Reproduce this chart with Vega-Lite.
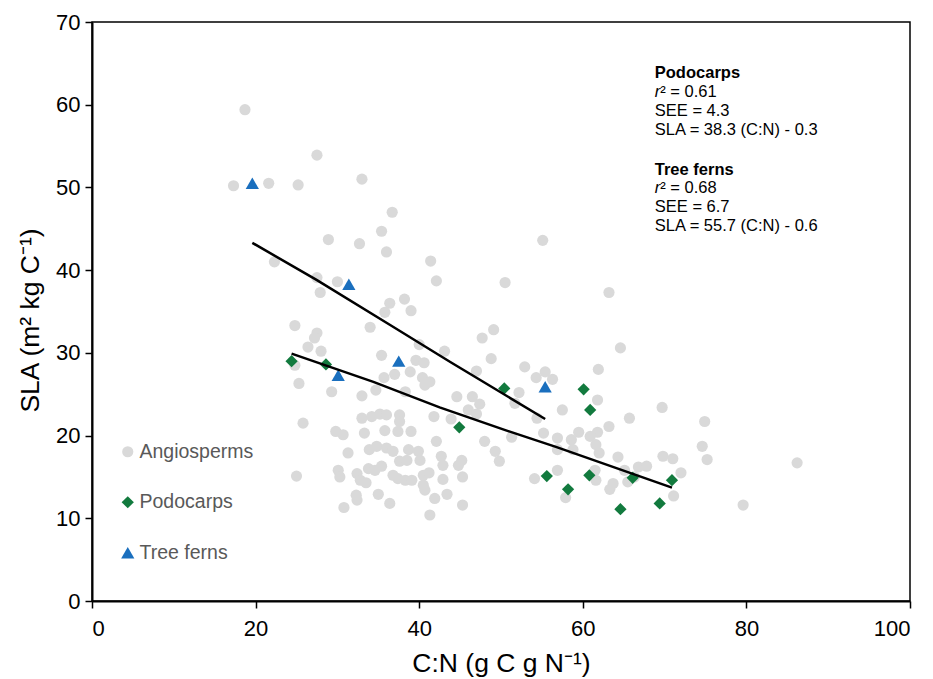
{
  "$schema": "https://vega.github.io/schema/vega-lite/v6.json",
  "width": 818,
  "height": 579,
  "autosize": {"type": "none"},
  "padding": {"left": 92, "top": 22, "right": 23, "bottom": 78},
  "background": "white",
  "config": {
    "font": "Liberation Sans",
    "view": {"stroke": "black", "strokeWidth": 1.5},
    "axis": {
      "grid": false,
      "domainColor": "black",
      "domainWidth": 2,
      "tickColor": "black",
      "tickWidth": 1.5,
      "tickSize": 7,
      "labelFont": "Liberation Sans",
      "labelFontSize": 22,
      "labelColor": "black",
      "titleFont": "Liberation Sans",
      "titleFontSize": 26.5,
      "titleFontWeight": "normal",
      "titleColor": "black"
    },
    "legend": {
      "labelFont": "Liberation Sans",
      "labelFontSize": 19.5,
      "labelColor": "#595959",
      "symbolSize": 90,
      "symbolStrokeWidth": 0,
      "rowPadding": 29.5,
      "padding": 0,
      "labelOffset": 2
    }
  },
  "datasets": {
    "points": [
      {"group": "Angiosperms", "cn": 18.7, "sla": 59.4},
      {"group": "Angiosperms", "cn": 27.5, "sla": 53.9},
      {"group": "Angiosperms", "cn": 17.3, "sla": 50.2},
      {"group": "Angiosperms", "cn": 21.6, "sla": 50.5},
      {"group": "Angiosperms", "cn": 25.2, "sla": 50.3},
      {"group": "Angiosperms", "cn": 33.0, "sla": 51.0},
      {"group": "Angiosperms", "cn": 36.7, "sla": 47.0},
      {"group": "Angiosperms", "cn": 35.4, "sla": 44.7},
      {"group": "Angiosperms", "cn": 28.9, "sla": 43.7},
      {"group": "Angiosperms", "cn": 32.7, "sla": 43.2},
      {"group": "Angiosperms", "cn": 36.0, "sla": 42.2},
      {"group": "Angiosperms", "cn": 41.4, "sla": 41.1},
      {"group": "Angiosperms", "cn": 22.3, "sla": 41.0},
      {"group": "Angiosperms", "cn": 55.1, "sla": 43.6},
      {"group": "Angiosperms", "cn": 27.5, "sla": 39.1},
      {"group": "Angiosperms", "cn": 30.0, "sla": 38.6},
      {"group": "Angiosperms", "cn": 42.1, "sla": 38.7},
      {"group": "Angiosperms", "cn": 27.9, "sla": 37.3},
      {"group": "Angiosperms", "cn": 50.5, "sla": 38.5},
      {"group": "Angiosperms", "cn": 63.2, "sla": 37.3},
      {"group": "Angiosperms", "cn": 36.4, "sla": 36.0},
      {"group": "Angiosperms", "cn": 38.2, "sla": 36.5},
      {"group": "Angiosperms", "cn": 35.8, "sla": 34.9},
      {"group": "Angiosperms", "cn": 39.0, "sla": 35.1},
      {"group": "Angiosperms", "cn": 24.8, "sla": 33.3},
      {"group": "Angiosperms", "cn": 34.0, "sla": 33.1},
      {"group": "Angiosperms", "cn": 49.1, "sla": 32.8},
      {"group": "Angiosperms", "cn": 27.5, "sla": 32.4},
      {"group": "Angiosperms", "cn": 27.2, "sla": 31.8},
      {"group": "Angiosperms", "cn": 47.7, "sla": 31.8},
      {"group": "Angiosperms", "cn": 26.4, "sla": 30.7},
      {"group": "Angiosperms", "cn": 28.0, "sla": 30.2},
      {"group": "Angiosperms", "cn": 40.0, "sla": 31.0},
      {"group": "Angiosperms", "cn": 43.1, "sla": 30.2},
      {"group": "Angiosperms", "cn": 64.6, "sla": 30.6},
      {"group": "Angiosperms", "cn": 48.8, "sla": 29.3},
      {"group": "Angiosperms", "cn": 35.4, "sla": 29.7},
      {"group": "Angiosperms", "cn": 39.6, "sla": 29.1},
      {"group": "Angiosperms", "cn": 40.6, "sla": 28.8},
      {"group": "Angiosperms", "cn": 24.8, "sla": 28.5},
      {"group": "Angiosperms", "cn": 47.0, "sla": 27.8},
      {"group": "Angiosperms", "cn": 38.9, "sla": 27.7},
      {"group": "Angiosperms", "cn": 37.0, "sla": 27.4},
      {"group": "Angiosperms", "cn": 35.7, "sla": 27.0},
      {"group": "Angiosperms", "cn": 40.4, "sla": 27.0},
      {"group": "Angiosperms", "cn": 41.3, "sla": 26.5},
      {"group": "Angiosperms", "cn": 40.7, "sla": 26.1},
      {"group": "Angiosperms", "cn": 25.3, "sla": 26.3},
      {"group": "Angiosperms", "cn": 52.9, "sla": 28.3},
      {"group": "Angiosperms", "cn": 55.4, "sla": 27.7},
      {"group": "Angiosperms", "cn": 54.3, "sla": 27.0},
      {"group": "Angiosperms", "cn": 56.3, "sla": 26.8},
      {"group": "Angiosperms", "cn": 61.9, "sla": 28.0},
      {"group": "Angiosperms", "cn": 34.7, "sla": 25.5},
      {"group": "Angiosperms", "cn": 29.3, "sla": 25.3},
      {"group": "Angiosperms", "cn": 38.3, "sla": 25.3},
      {"group": "Angiosperms", "cn": 33.0, "sla": 24.8},
      {"group": "Angiosperms", "cn": 44.6, "sla": 24.7},
      {"group": "Angiosperms", "cn": 46.5, "sla": 24.7},
      {"group": "Angiosperms", "cn": 52.2, "sla": 25.2},
      {"group": "Angiosperms", "cn": 47.4, "sla": 23.8},
      {"group": "Angiosperms", "cn": 51.7, "sla": 23.9},
      {"group": "Angiosperms", "cn": 61.8, "sla": 24.3},
      {"group": "Angiosperms", "cn": 46.0, "sla": 23.1},
      {"group": "Angiosperms", "cn": 47.0, "sla": 22.6},
      {"group": "Angiosperms", "cn": 69.7, "sla": 23.4},
      {"group": "Angiosperms", "cn": 57.5, "sla": 23.1},
      {"group": "Angiosperms", "cn": 43.9, "sla": 22.0},
      {"group": "Angiosperms", "cn": 41.8, "sla": 22.3},
      {"group": "Angiosperms", "cn": 65.7, "sla": 22.1},
      {"group": "Angiosperms", "cn": 74.9, "sla": 21.7},
      {"group": "Angiosperms", "cn": 54.4, "sla": 22.1},
      {"group": "Angiosperms", "cn": 25.8, "sla": 21.5},
      {"group": "Angiosperms", "cn": 33.0, "sla": 22.1},
      {"group": "Angiosperms", "cn": 34.2, "sla": 22.3},
      {"group": "Angiosperms", "cn": 35.2, "sla": 22.6},
      {"group": "Angiosperms", "cn": 36.0, "sla": 22.5},
      {"group": "Angiosperms", "cn": 37.6, "sla": 22.5},
      {"group": "Angiosperms", "cn": 37.6, "sla": 21.7},
      {"group": "Angiosperms", "cn": 37.4, "sla": 20.5},
      {"group": "Angiosperms", "cn": 29.8, "sla": 20.5},
      {"group": "Angiosperms", "cn": 30.7, "sla": 20.1},
      {"group": "Angiosperms", "cn": 33.3, "sla": 20.3},
      {"group": "Angiosperms", "cn": 35.8, "sla": 20.6},
      {"group": "Angiosperms", "cn": 39.0, "sla": 20.5},
      {"group": "Angiosperms", "cn": 55.2, "sla": 20.3},
      {"group": "Angiosperms", "cn": 63.2, "sla": 21.1},
      {"group": "Angiosperms", "cn": 61.8, "sla": 20.4},
      {"group": "Angiosperms", "cn": 60.9, "sla": 19.9},
      {"group": "Angiosperms", "cn": 59.5, "sla": 20.4},
      {"group": "Angiosperms", "cn": 58.6, "sla": 19.5},
      {"group": "Angiosperms", "cn": 56.9, "sla": 19.7},
      {"group": "Angiosperms", "cn": 51.3, "sla": 19.8},
      {"group": "Angiosperms", "cn": 42.1, "sla": 19.3},
      {"group": "Angiosperms", "cn": 48.0, "sla": 19.3},
      {"group": "Angiosperms", "cn": 49.3, "sla": 18.1},
      {"group": "Angiosperms", "cn": 49.8, "sla": 16.9},
      {"group": "Angiosperms", "cn": 31.3, "sla": 17.9},
      {"group": "Angiosperms", "cn": 33.9, "sla": 18.3},
      {"group": "Angiosperms", "cn": 34.8, "sla": 18.7},
      {"group": "Angiosperms", "cn": 36.0, "sla": 18.5},
      {"group": "Angiosperms", "cn": 36.8, "sla": 18.1},
      {"group": "Angiosperms", "cn": 38.7, "sla": 18.3},
      {"group": "Angiosperms", "cn": 39.9, "sla": 18.1},
      {"group": "Angiosperms", "cn": 37.6, "sla": 16.9},
      {"group": "Angiosperms", "cn": 38.5, "sla": 17.0},
      {"group": "Angiosperms", "cn": 40.1, "sla": 17.0},
      {"group": "Angiosperms", "cn": 42.7, "sla": 17.5},
      {"group": "Angiosperms", "cn": 42.9, "sla": 16.4},
      {"group": "Angiosperms", "cn": 45.2, "sla": 17.0},
      {"group": "Angiosperms", "cn": 44.8, "sla": 16.4},
      {"group": "Angiosperms", "cn": 30.1, "sla": 15.8},
      {"group": "Angiosperms", "cn": 30.3, "sla": 15.0},
      {"group": "Angiosperms", "cn": 33.8, "sla": 16.0},
      {"group": "Angiosperms", "cn": 34.6, "sla": 15.8},
      {"group": "Angiosperms", "cn": 35.4, "sla": 16.3},
      {"group": "Angiosperms", "cn": 36.8, "sla": 15.2},
      {"group": "Angiosperms", "cn": 37.4, "sla": 14.8},
      {"group": "Angiosperms", "cn": 38.3, "sla": 14.6},
      {"group": "Angiosperms", "cn": 39.1, "sla": 14.6},
      {"group": "Angiosperms", "cn": 32.4, "sla": 15.4},
      {"group": "Angiosperms", "cn": 32.8, "sla": 14.6},
      {"group": "Angiosperms", "cn": 33.5, "sla": 14.3},
      {"group": "Angiosperms", "cn": 25.0, "sla": 15.1},
      {"group": "Angiosperms", "cn": 40.5, "sla": 15.2},
      {"group": "Angiosperms", "cn": 41.2, "sla": 15.5},
      {"group": "Angiosperms", "cn": 40.5, "sla": 14.0},
      {"group": "Angiosperms", "cn": 40.7, "sla": 13.4},
      {"group": "Angiosperms", "cn": 42.9, "sla": 14.7},
      {"group": "Angiosperms", "cn": 45.3, "sla": 15.0},
      {"group": "Angiosperms", "cn": 32.3, "sla": 12.8},
      {"group": "Angiosperms", "cn": 32.4, "sla": 12.2},
      {"group": "Angiosperms", "cn": 35.0, "sla": 12.9},
      {"group": "Angiosperms", "cn": 36.4, "sla": 11.8},
      {"group": "Angiosperms", "cn": 30.8, "sla": 11.3},
      {"group": "Angiosperms", "cn": 41.9, "sla": 12.4},
      {"group": "Angiosperms", "cn": 43.4, "sla": 12.9},
      {"group": "Angiosperms", "cn": 45.3, "sla": 11.6},
      {"group": "Angiosperms", "cn": 41.3, "sla": 10.4},
      {"group": "Angiosperms", "cn": 61.6, "sla": 18.9},
      {"group": "Angiosperms", "cn": 62.0, "sla": 17.9},
      {"group": "Angiosperms", "cn": 58.8, "sla": 18.3},
      {"group": "Angiosperms", "cn": 56.9, "sla": 18.3},
      {"group": "Angiosperms", "cn": 74.6, "sla": 18.7},
      {"group": "Angiosperms", "cn": 75.2, "sla": 17.1},
      {"group": "Angiosperms", "cn": 69.8, "sla": 17.5},
      {"group": "Angiosperms", "cn": 71.0, "sla": 17.2},
      {"group": "Angiosperms", "cn": 64.3, "sla": 17.4},
      {"group": "Angiosperms", "cn": 66.8, "sla": 16.2},
      {"group": "Angiosperms", "cn": 67.8, "sla": 16.3},
      {"group": "Angiosperms", "cn": 72.0, "sla": 15.5},
      {"group": "Angiosperms", "cn": 65.1, "sla": 15.8},
      {"group": "Angiosperms", "cn": 61.5, "sla": 15.8},
      {"group": "Angiosperms", "cn": 56.9, "sla": 15.8},
      {"group": "Angiosperms", "cn": 54.1, "sla": 14.8},
      {"group": "Angiosperms", "cn": 61.6, "sla": 14.6},
      {"group": "Angiosperms", "cn": 63.7, "sla": 14.2},
      {"group": "Angiosperms", "cn": 63.3, "sla": 13.5},
      {"group": "Angiosperms", "cn": 65.5, "sla": 14.4},
      {"group": "Angiosperms", "cn": 66.3, "sla": 15.0},
      {"group": "Angiosperms", "cn": 57.9, "sla": 12.5},
      {"group": "Angiosperms", "cn": 71.1, "sla": 12.7},
      {"group": "Angiosperms", "cn": 79.6, "sla": 11.6},
      {"group": "Angiosperms", "cn": 86.2, "sla": 16.7},
      {"group": "Podocarps", "cn": 24.4, "sla": 29.0},
      {"group": "Podocarps", "cn": 28.6, "sla": 28.6},
      {"group": "Podocarps", "cn": 44.9, "sla": 21.0},
      {"group": "Podocarps", "cn": 50.4, "sla": 25.7},
      {"group": "Podocarps", "cn": 60.1, "sla": 25.6},
      {"group": "Podocarps", "cn": 60.9, "sla": 23.1},
      {"group": "Podocarps", "cn": 55.6, "sla": 15.1},
      {"group": "Podocarps", "cn": 58.2, "sla": 13.5},
      {"group": "Podocarps", "cn": 60.8, "sla": 15.2},
      {"group": "Podocarps", "cn": 64.6, "sla": 11.1},
      {"group": "Podocarps", "cn": 69.4, "sla": 11.8},
      {"group": "Podocarps", "cn": 66.1, "sla": 14.9},
      {"group": "Podocarps", "cn": 70.9, "sla": 14.6},
      {"group": "Tree ferns", "cn": 19.6, "sla": 50.5},
      {"group": "Tree ferns", "cn": 31.4, "sla": 38.3},
      {"group": "Tree ferns", "cn": 37.5, "sla": 29.0},
      {"group": "Tree ferns", "cn": 30.1, "sla": 27.3},
      {"group": "Tree ferns", "cn": 55.4, "sla": 25.9}
    ],
    "fits": [
      {"group": "Podocarps", "cn": 24.4, "sla": 29.9},
      {"group": "Podocarps", "cn": 34.4, "sla": 26.5},
      {"group": "Podocarps", "cn": 42.5, "sla": 23.4},
      {"group": "Podocarps", "cn": 50.7, "sla": 20.6},
      {"group": "Podocarps", "cn": 56.8, "sla": 18.6},
      {"group": "Podocarps", "cn": 70.9, "sla": 13.7},
      {"group": "Tree ferns", "cn": 19.6, "sla": 43.3},
      {"group": "Tree ferns", "cn": 27.5, "sla": 38.8},
      {"group": "Tree ferns", "cn": 36.4, "sla": 33.4},
      {"group": "Tree ferns", "cn": 43.8, "sla": 28.9},
      {"group": "Tree ferns", "cn": 55.4, "sla": 22.0}
    ],
    "headings": [
      {"text": "Podocarps", "cn": 68.8, "sla": 63.85},
      {"text": "Tree ferns", "cn": 68.8, "sla": 52.12}
    ],
    "rsym": [
      {"text": "r", "cn": 68.8, "sla": 61.55},
      {"text": "r", "cn": 68.8, "sla": 49.88}
    ],
    "rval": [
      {"text": "² = 0.61", "cn": 68.8, "sla": 61.55},
      {"text": "² = 0.68", "cn": 68.8, "sla": 49.88}
    ],
    "stats": [
      {"text": "SEE = 4.3", "cn": 68.8, "sla": 59.19},
      {"text": "SLA = 38.3 (C:N) - 0.3", "cn": 68.8, "sla": 56.89},
      {"text": "SEE = 6.7", "cn": 68.8, "sla": 47.58},
      {"text": "SLA = 55.7 (C:N) - 0.6", "cn": 68.8, "sla": 45.28}
    ]
  },
  "encoding": {
    "x": {
      "field": "cn",
      "type": "quantitative",
      "scale": {"domain": [0, 100], "nice": false, "zero": false},
      "axis": {
        "title": "C:N (g C g N⁻¹)",
        "values": [0, 20, 40, 60, 80, 100],
        "labelPadding": 10,
        "titleY": 62,
        "titleBaseline": "middle"
      }
    },
    "y": {
      "field": "sla",
      "type": "quantitative",
      "scale": {"domain": [0, 70], "nice": false, "zero": false},
      "axis": {
        "title": "SLA (m² kg C⁻¹)",
        "values": [0, 10, 20, 30, 40, 50, 60, 70],
        "labelPadding": 5,
        "titleX": -62,
        "titleY": 298,
        "titleBaseline": "middle",
        "titleAngle": -90
      }
    }
  },
  "layer": [
    {
      "data": {"name": "points"},
      "mark": {"type": "point", "filled": true, "opacity": 1, "strokeWidth": 0},
      "encoding": {
        "color": {
          "field": "group",
          "type": "nominal",
          "scale": {"domain": ["Angiosperms", "Podocarps", "Tree ferns"], "range": ["#d9d9d9", "#127a3e", "#1a6fbe"]},
          "legend": {"title": null, "orient": "none", "legendX": 26, "legendY": 420}
        },
        "shape": {
          "field": "group",
          "type": "nominal",
          "scale": {"domain": ["Angiosperms", "Podocarps", "Tree ferns"], "range": ["circle", "diamond", "triangle-up"]},
          "legend": {"title": null, "orient": "none", "legendX": 26, "legendY": 420}
        },
        "size": {
          "field": "group",
          "type": "nominal",
          "scale": {"domain": ["Angiosperms", "Podocarps", "Tree ferns"], "range": [125, 175, 190]},
          "legend": null
        }
      }
    },
    {
      "data": {"name": "fits"},
      "mark": {"type": "line", "color": "black", "strokeWidth": 2.5},
      "encoding": {
        "detail": {"field": "group", "type": "nominal"}
      }
    },
    {
      "data": {"name": "headings"},
      "mark": {"type": "text", "align": "left", "baseline": "middle", "fontSize": 16.5, "fontWeight": "bold", "color": "black"},
      "encoding": {"text": {"field": "text"}}
    },
    {
      "data": {"name": "rsym"},
      "mark": {"type": "text", "align": "left", "baseline": "middle", "fontSize": 16.5, "fontStyle": "italic", "color": "black"},
      "encoding": {"text": {"field": "text"}}
    },
    {
      "data": {"name": "rval"},
      "mark": {"type": "text", "align": "left", "baseline": "middle", "fontSize": 16.5, "dx": 5.5, "color": "black"},
      "encoding": {"text": {"field": "text"}}
    },
    {
      "data": {"name": "stats"},
      "mark": {"type": "text", "align": "left", "baseline": "middle", "fontSize": 16.5, "color": "black"},
      "encoding": {"text": {"field": "text"}}
    }
  ]
}
